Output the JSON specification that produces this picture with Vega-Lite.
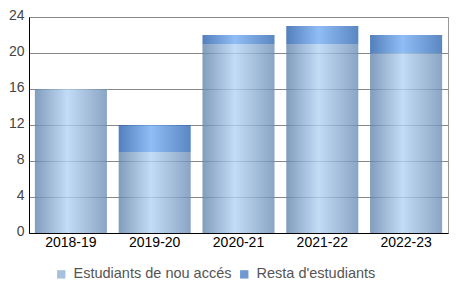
{
  "$schema": "https://vega.github.io/schema/vega-lite/v6.json",
  "width": 419,
  "height": 216,
  "autosize": {"type": "none"},
  "padding": {"left": 29, "top": 17, "right": 8, "bottom": 72},
  "background": "white",
  "config": {
    "font": "Liberation Sans",
    "view": {"stroke": "#999999", "strokeWidth": 1}
  },
  "data": {
    "values": [
      {"curs": "2018-19", "serie": "Estudiants de nou accés", "valor": 16},
      {"curs": "2018-19", "serie": "Resta d'estudiants", "valor": 0},
      {"curs": "2019-20", "serie": "Estudiants de nou accés", "valor": 9},
      {"curs": "2019-20", "serie": "Resta d'estudiants", "valor": 3},
      {"curs": "2020-21", "serie": "Estudiants de nou accés", "valor": 21},
      {"curs": "2020-21", "serie": "Resta d'estudiants", "valor": 1},
      {"curs": "2021-22", "serie": "Estudiants de nou accés", "valor": 21},
      {"curs": "2021-22", "serie": "Resta d'estudiants", "valor": 2},
      {"curs": "2022-23", "serie": "Estudiants de nou accés", "valor": 20},
      {"curs": "2022-23", "serie": "Resta d'estudiants", "valor": 2}
    ]
  },
  "transform": [
    {"stack": "valor", "groupby": ["curs"], "sort": [{"field": "serie", "order": "ascending"}], "as": ["y0", "y1"]}
  ],
  "encoding": {
    "x": {
      "field": "curs",
      "type": "nominal",
      "scale": {"paddingInner": 0.14, "paddingOuter": 0.07},
      "axis": {
        "title": null,
        "labelAngle": 0,
        "labelFontSize": 14,
        "labelColor": "#000000",
        "labelPadding": 2,
        "ticks": false,
        "domainColor": "#000000",
        "domainWidth": 1,
        "zindex": 1
      }
    },
    "y": {
      "field": "y1",
      "type": "quantitative",
      "scale": {"domain": [0, 24], "nice": false},
      "axis": {
        "title": null,
        "values": [0, 4, 8, 12, 16, 20, 24],
        "labelFontSize": 14,
        "labelColor": "#444444",
        "labelPadding": 5,
        "labelOffset": -2,
        "ticks": false,
        "domain": true,
        "domainColor": "#000000",
        "domainWidth": 1,
        "gridColor": "#888888",
        "gridOpacity": 1,
        "zindex": 0
      }
    },
    "y2": {"field": "y0"}
  },
  "layer": [
    {
      "transform": [{"filter": "datum.serie === 'Estudiants de nou accés'"}],
      "mark": {
        "type": "bar",
        "opacity": 0.8,
        "color": {"gradient": "linear", "x1": 0, "y1": 0, "x2": 1, "y2": 0, "stops": [
          {"offset": 0, "color": "#6384ac"},
          {"offset": 0.45, "color": "#b3d3f4"},
          {"offset": 1, "color": "#6d8eb5"}
        ]}
      }
    },
    {
      "transform": [{"filter": "datum.serie !== 'Estudiants de nou accés' && datum.valor > 0"}],
      "mark": {
        "type": "bar",
        "opacity": 0.8,
        "color": {"gradient": "linear", "x1": 0, "y1": 0, "x2": 1, "y2": 0, "stops": [
          {"offset": 0, "color": "#2760ac"},
          {"offset": 0.45, "color": "#74acf2"},
          {"offset": 1, "color": "#3169b3"}
        ]}
      }
    },
    {
      "transform": [{"filter": "datum.valor < 0"}],
      "mark": {"type": "square"},
      "encoding": {
        "color": {
          "field": "serie",
          "type": "nominal",
          "scale": {
            "domain": ["Estudiants de nou accés", "Resta d'estudiants"],
            "range": ["#a6c0dd", "#7099d2"]
          },
          "legend": {
            "title": null,
            "orient": "none",
            "direction": "horizontal",
            "legendX": 25,
            "legendY": 250,
            "symbolType": "square",
            "symbolSize": 70,
            "symbolStrokeWidth": 0,
            "symbolOpacity": 1,
            "labelFontSize": 14.5,
            "labelColor": "#555555",
            "labelOffset": 5,
            "columnPadding": 5,
            "labelLimit": 300
          }
        }
      }
    }
  ]
}
